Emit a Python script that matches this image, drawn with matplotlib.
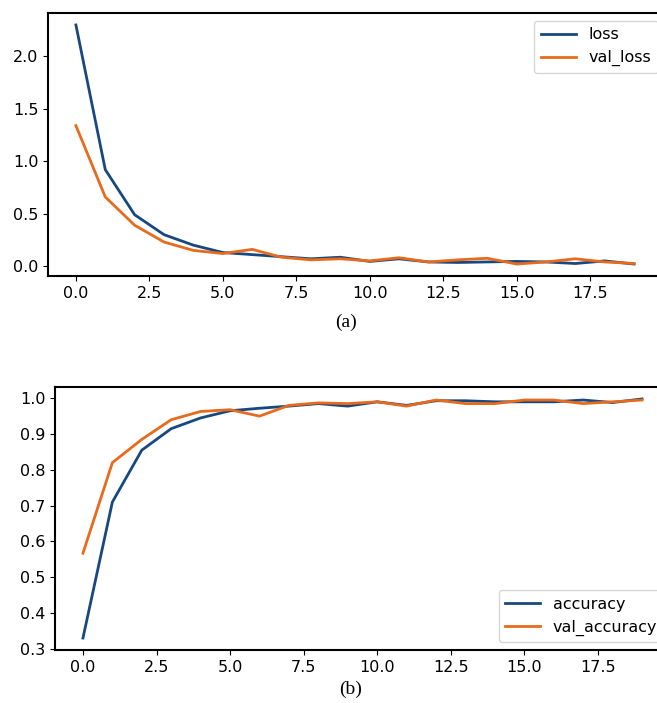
import matplotlib.pyplot as plt

epochs = list(range(20))

loss = [2.30, 0.92, 0.49, 0.30, 0.20, 0.13, 0.11, 0.09, 0.07, 0.085,
        0.045, 0.07, 0.04, 0.035, 0.04, 0.045, 0.04, 0.025, 0.05, 0.02]
val_loss = [1.34, 0.66, 0.39, 0.23, 0.15, 0.12, 0.16, 0.085, 0.06, 0.07,
            0.05, 0.08, 0.04, 0.06, 0.075, 0.02, 0.04, 0.07, 0.04, 0.025]

accuracy = [0.33, 0.71, 0.855, 0.915, 0.945, 0.965, 0.972, 0.978, 0.985, 0.978,
            0.99, 0.98, 0.993, 0.993, 0.99, 0.99, 0.99, 0.995, 0.988, 0.998]
val_accuracy = [0.567, 0.82, 0.885, 0.94, 0.963, 0.968, 0.95, 0.98, 0.987, 0.985,
                0.99, 0.978, 0.995, 0.985, 0.985, 0.995, 0.995, 0.985, 0.99, 0.995]

blue = '#17487f'
orange = '#e86a1c'

fig = plt.figure(figsize=(6.57, 7.03), dpi=100)

# top: loss
ax1 = fig.add_axes([48 / 657, 1 - 276 / 703, (662 - 48) / 657, (276 - 13) / 703])
ax1.plot(epochs, loss, color=blue, lw=2, label='loss')
ax1.plot(epochs, val_loss, color=orange, lw=2, label='val_loss')
ax1.set_xticks([0, 2.5, 5, 7.5, 10, 12.5, 15, 17.5])
ax1.set_yticks([0, 0.5, 1.0, 1.5, 2.0])
ax1.tick_params(labelsize=11.5)
ax1.legend(loc='upper right', bbox_to_anchor=(0.993, 0.97), fontsize=11.5,
           handlelength=2.2, borderaxespad=0)
for s in ax1.spines.values():
    s.set_linewidth(1.5)
fig.text(346 / 657, 1 - 322 / 703, '(a)', family='Liberation Serif', fontsize=14,
         ha='center', va='center')

# bottom: accuracy
ax2 = fig.add_axes([55 / 657, 1 - 650 / 703, (670 - 55) / 657, (650 - 387) / 703])
ax2.plot(epochs, accuracy, color=blue, lw=2, label='accuracy')
ax2.plot(epochs, val_accuracy, color=orange, lw=2, label='val_accuracy')
ax2.set_xticks([0, 2.5, 5, 7.5, 10, 12.5, 15, 17.5])
ax2.set_yticks([0.3, 0.4, 0.5, 0.6, 0.7, 0.8, 0.9, 1.0])
ax2.tick_params(labelsize=11.5)
ax2.legend(loc='lower right', bbox_to_anchor=(0.99, 0.03), fontsize=11.5,
           handlelength=2.2, borderaxespad=0)
for s in ax2.spines.values():
    s.set_linewidth(1.5)
fig.text(351 / 657, 1 - 689 / 703, '(b)', family='Liberation Serif', fontsize=14,
         ha='center', va='center')

fig.savefig('out.png', dpi=100)
